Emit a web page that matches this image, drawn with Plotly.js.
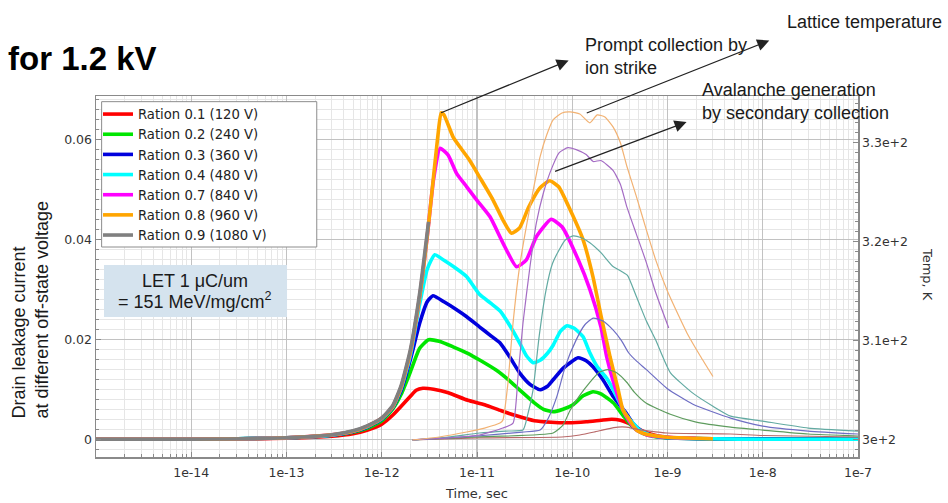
<!DOCTYPE html>
<html>
<head>
<meta charset="utf-8">
<script src="https://cdn.plot.ly/plotly-3.0.1.min.js"></script>
<style>
  html, body { margin: 0; padding: 0; background: #fff; }
  #chart { width: 948px; height: 503px; }
</style>
</head>
<body>
<div id="chart"></div>
<script>
// ---- Drain current (left axis), one series per off-state voltage ratio ----
const time_r01 = [1e-15, 1e-14, 1e-13, 3e-13, 5e-13, 7e-13, 1e-12, 1.3e-12, 1.6e-12, 2e-12, 2.3e-12, 2.7e-12, 3.5e-12, 5e-12, 8e-12, 1.2e-11, 1.8e-11, 2.5e-11, 4e-11, 6e-11, 9e-11, 1.4e-10, 2e-10, 2.6e-10, 3.2e-10, 3.8e-10, 4.5e-10, 5.3e-10, 7e-10, 1e-9, 3e-9, 1e-7];
const cur_r01  = [0, 0, 0.0002, 0.0006, 0.0011, 0.0018, 0.0030, 0.0048, 0.0066, 0.0086, 0.0098, 0.0102, 0.0100, 0.0093, 0.0078, 0.0069, 0.0057, 0.0048, 0.0037, 0.0034, 0.0033, 0.0035, 0.0038, 0.0040, 0.0038, 0.0033, 0.0026, 0.0018, 0.0009, 0.0004, 0.0001, 0];

const time_r02 = [1e-15, 1e-14, 1e-13, 3e-13, 5e-13, 7e-13, 1e-12, 1.3e-12, 1.6e-12, 2e-12, 2.5e-12, 3.1e-12, 4e-12, 5.6e-12, 8e-12, 1.1e-11, 1.6e-11, 2.2e-11, 2.8e-11, 4e-11, 5e-11, 6.3e-11, 8e-11, 1.02e-10, 1.3e-10, 1.65e-10, 2e-10, 2.7e-10, 3.5e-10, 4.3e-10, 5.5e-10, 7e-10, 1e-9, 3e-9, 1e-7];
const cur_r02  = [0, 0, 0.0003, 0.0008, 0.0014, 0.0022, 0.0037, 0.0060, 0.0090, 0.0135, 0.0182, 0.0199, 0.0196, 0.0185, 0.0172, 0.0157, 0.0138, 0.0117, 0.0099, 0.0073, 0.0060, 0.0055, 0.0060, 0.0069, 0.0087, 0.0095, 0.0091, 0.0073, 0.0045, 0.0025, 0.0012, 0.0006, 0.0003, 0.0001, 0];

const time_r03 = [1e-15, 1e-14, 1e-13, 3e-13, 5e-13, 7e-13, 1e-12, 1.3e-12, 1.6e-12, 2e-12, 2.5e-12, 3e-12, 3.45e-12, 4.5e-12, 6e-12, 7.8e-12, 1.06e-11, 1.4e-11, 1.74e-11, 2.2e-11, 2.8e-11, 3.6e-11, 4.6e-11, 5.5e-11, 6.3e-11, 8e-11, 1.15e-10, 1.4e-10, 1.65e-10, 2.1e-10, 2.7e-10, 3.6e-10, 4.3e-10, 5.3e-10, 7e-10, 1e-9, 3e-9, 1e-7];
const cur_r03  = [0, 0, 0.0003, 0.0008, 0.0015, 0.0024, 0.0040, 0.0063, 0.0098, 0.0160, 0.0232, 0.0275, 0.0287, 0.0275, 0.0260, 0.0245, 0.0225, 0.0207, 0.0193, 0.0165, 0.0133, 0.0110, 0.0099, 0.0106, 0.0119, 0.0142, 0.0163, 0.0157, 0.0145, 0.0119, 0.0085, 0.0055, 0.0033, 0.0017, 0.0007, 0.0003, 0.0001, 0];

const time_r04 = [1e-15, 1e-14, 1e-13, 3e-13, 5e-13, 7e-13, 1e-12, 1.3e-12, 1.6e-12, 2e-12, 2.5e-12, 3e-12, 3.6e-12, 4.5e-12, 6e-12, 7.8e-12, 1.06e-11, 1.4e-11, 1.74e-11, 2.2e-11, 2.8e-11, 3.3e-11, 3.9e-11, 4.6e-11, 5.5e-11, 6.3e-11, 7.5e-11, 8.8e-11, 1.05e-10, 1.3e-10, 1.53e-10, 1.83e-10, 2.3e-10, 2.7e-10, 3.2e-10, 3.7e-10, 4.3e-10, 5e-10, 5.8e-10, 7e-10, 1.07e-9, 3e-9, 1e-8, 1e-7];
const cur_r04  = [0, 0, 0.0003, 0.0008, 0.0016, 0.0025, 0.0041, 0.0064, 0.0102, 0.0168, 0.0270, 0.0340, 0.0369, 0.0358, 0.0342, 0.0325, 0.0290, 0.0272, 0.0257, 0.0228, 0.0193, 0.0167, 0.0153, 0.0158, 0.0172, 0.0188, 0.0216, 0.0227, 0.0222, 0.0205, 0.0173, 0.0145, 0.0122, 0.0099, 0.0070, 0.0048, 0.0033, 0.0020, 0.0013, 0.0007, 0.0003, 0.0001, 0, 0];

const time_r07 = [1e-15, 1e-14, 1e-13, 3e-13, 5e-13, 7e-13, 1e-12, 1.3e-12, 1.6e-12, 2e-12, 2.5e-12, 3e-12, 3.5e-12, 4.1e-12, 4.96e-12, 6.1e-12, 7.8e-12, 9.9e-12, 1.37e-11, 1.87e-11, 2.6e-11, 3.3e-11, 4.2e-11, 6e-11, 7.8e-11, 1.15e-10, 1.53e-10, 2e-10, 2.3e-10, 2.8e-10, 3.4e-10, 4e-10, 4.7e-10, 6e-10, 1e-9, 2e-9];
const cur_r07  = [0, 0, 0.0003, 0.0009, 0.0016, 0.0026, 0.0042, 0.0065, 0.0105, 0.0175, 0.0285, 0.0405, 0.0520, 0.0582, 0.0569, 0.0532, 0.0505, 0.0479, 0.0445, 0.0393, 0.0345, 0.0359, 0.0405, 0.0440, 0.0425, 0.0360, 0.0300, 0.0225, 0.0165, 0.0105, 0.0059, 0.0035, 0.0019, 0.0009, 0.0004, 0.0002];

const time_r08 = [1e-15, 1e-14, 1e-13, 3e-13, 5e-13, 7e-13, 1e-12, 1.3e-12, 1.6e-12, 2e-12, 2.5e-12, 3e-12, 3.5e-12, 3.9e-12, 4.2e-12, 4.5e-12, 5.6e-12, 6.6e-12, 8.3e-12, 1.06e-11, 1.47e-11, 1.87e-11, 2.3e-11, 2.8e-11, 3.5e-11, 4.6e-11, 5.8e-11, 7.2e-11, 9.5e-11, 1.3e-10, 1.65e-10, 2e-10, 2.5e-10, 3e-10, 3.4e-10, 4e-10, 4.7e-10, 6e-10, 8e-10, 1e-9, 2e-9, 3e-9];
const cur_r08  = [0, 0, 0.0003, 0.0009, 0.0016, 0.0026, 0.0042, 0.0065, 0.0105, 0.0175, 0.0285, 0.0405, 0.0526, 0.0610, 0.0653, 0.0649, 0.0605, 0.0585, 0.0559, 0.0525, 0.0479, 0.0439, 0.0412, 0.0423, 0.0465, 0.0503, 0.0517, 0.0505, 0.0459, 0.0399, 0.0325, 0.0248, 0.0164, 0.0103, 0.0059, 0.0039, 0.0019, 0.0010, 0.0006, 0.0004, 0.0002, 0.0001];

const time_r09 = [1e-15, 1e-14, 1e-13, 3e-13, 5e-13, 7e-13, 1e-12, 1.3e-12, 1.6e-12, 2e-12, 2.5e-12, 3.1e-12];
const cur_r09  = [0, 0, 0.0003, 0.0009, 0.0017, 0.0027, 0.0043, 0.0067, 0.0108, 0.0180, 0.0292, 0.0435];

// ---- Lattice temperature (right axis) ----
const ttime_r01 = [2.1e-12, 1e-11, 7.8e-11, 1.2e-10, 1.7e-10, 2.3e-10, 3e-10, 3.7e-10, 4.7e-10, 6.5e-10, 9.9e-10, 4.6e-9, 1e-8, 1e-7];
const temp_r01  = [300.0, 300.2, 300.3, 300.5, 300.8, 301.1, 301.3, 301.3, 301.1, 300.9, 300.7, 300.6, 300.45, 300.3];

const ttime_r02 = [2.1e-12, 1e-11, 6.3e-11, 8e-11, 9.5e-11, 1.2e-10, 1.53e-10, 1.9e-10, 2.35e-10, 2.9e-10, 3.75e-10, 4.5e-10, 6e-10, 1.07e-9, 2e-9, 4.6e-9, 1e-8, 3e-8, 1e-7];
const temp_r02  = [300.0, 300.3, 300.7, 301.5, 303.0, 304.5, 305.8, 306.8, 307.1, 306.8, 305.8, 304.8, 303.7, 302.6, 301.8, 301.3, 301.0, 300.6, 300.4];

const ttime_r03 = [2.1e-12, 1e-11, 3e-11, 4.6e-11, 5.6e-11, 6.9e-11, 8.5e-11, 1.1e-10, 1.35e-10, 1.66e-10, 2.1e-10, 2.68e-10, 3.3e-10, 3.9e-10, 4.8e-10, 6e-10, 9.9e-10, 1.85e-9, 4.6e-9, 1e-8, 3e-8, 1e-7];
const temp_r03  = [300.0, 300.4, 300.8, 301.0, 302.2, 304.4, 307.5, 310.1, 311.6, 312.3, 312.0, 311.1, 310.0, 308.8, 307.9, 307.1, 305.2, 303.6, 302.2, 301.4, 300.9, 300.6];

const ttime_r04 = [2.1e-12, 5e-12, 1.06e-11, 2e-11, 3.04e-11, 3.4e-11, 3.87e-11, 4.5e-11, 5.3e-11, 6.2e-11, 7.3e-11, 8.5e-11, 1.02e-10, 1.25e-10, 1.53e-10, 2e-10, 2.68e-10, 3.3e-10, 3.8e-10, 4.7e-10, 6e-10, 7.5e-10, 1.07e-9, 1.8e-9, 3e-9, 4.6e-9, 1e-8, 3e-8, 1e-7];
const temp_r04  = [300.0, 300.3, 300.7, 300.9, 301.0, 302.5, 305.0, 310.5, 315.1, 317.8, 319.2, 320.2, 320.6, 320.4, 319.9, 318.9, 317.5, 317.0, 316.6, 314.5, 312.0, 310.1, 306.8, 304.8, 303.4, 302.4, 301.9, 301.2, 300.9];

const ttime_r07 = [2.1e-12, 5e-12, 1.06e-11, 1.87e-11, 2.39e-11, 2.7e-11, 3.04e-11, 3.6e-11, 4.2e-11, 5e-11, 5.8e-11, 7.3e-11, 9e-11, 1.1e-10, 1.4e-10, 1.66e-10, 2e-10, 2.68e-10, 3.2e-10, 3.75e-10, 4.7e-10, 6e-10, 7.5e-10, 1.03e-9];
const temp_r07  = [300.0, 300.2, 300.5, 301.2, 301.7, 306.5, 311.8, 317.5, 321.9, 325.0, 326.9, 329.0, 329.5, 329.3, 328.8, 328.1, 328.2, 327.2, 325.8, 323.5, 320.8, 317.9, 314.9, 311.3];

const ttime_r08 = [2.1e-12, 4e-12, 7.8e-12, 1.2e-11, 1.74e-11, 1.87e-11, 2.1e-11, 2.39e-11, 2.8e-11, 3.35e-11, 4e-11, 4.6e-11, 5.4e-11, 6.3e-11, 7.8e-11, 9.5e-11, 1.2e-10, 1.53e-10, 1.83e-10, 2.2e-10, 2.68e-10, 3.2e-10, 3.75e-10, 4.7e-10, 6e-10, 7.5e-10, 9.9e-10, 1.3e-9, 1.6e-9, 2.2e-9, 3e-9];
const temp_r08  = [300.0, 300.3, 300.8, 301.2, 301.7, 302.0, 305.5, 311.8, 317.5, 321.9, 325.8, 328.6, 330.8, 332.3, 333.0, 333.1, 332.9, 332.0, 332.8, 332.6, 331.6, 330.0, 327.6, 324.6, 321.2, 318.2, 315.1, 312.6, 310.8, 308.5, 306.4];

// ---- Labels ----
const seriesNames = ['Ration 0.1 (120 V)', 'Ration 0.2 (240 V)', 'Ration 0.3 (360 V)', 'Ration 0.4 (480 V)',
                     'Ration 0.7 (840 V)', 'Ration 0.8 (960 V)', 'Ration 0.9 (1080 V)'];
const xTickVals = [1e-14, 1e-13, 1e-12, 1e-11, 1e-10, 1e-9, 1e-8, 1e-7];
const xTickText = ['1e-14', '1e-13', '1e-12', '1e-11', '1e-10', '1e-9', '1e-8', '1e-7'];
const yTickVals = [0, 0.02, 0.04, 0.06];
const yTickText = ['0', '0.02', '0.04', '0.06'];
const y2TickVals = [300, 310, 320, 330];
const y2TickText = ['3e+2', '3.1e+2', '3.2e+2', '3.3e+2'];

// ---- Styling ----
const currentColors = ['#ff0000', '#00e600', '#0000dd', '#00ffff', '#ff00ff', '#ffa500', '#808080'];
const tempColors = ['#b86868', '#5e9c5e', '#6e6ec4', '#62aaa2', '#a46cc4', '#f2b273'];
const AX = '#8a8a8a';
const TICKFONT = { family: 'DejaVu Sans', size: 12.5, color: '#333' };
const NOTEFONT = { family: 'Liberation Sans, Arial, sans-serif', size: 18, color: '#1a1a1a' };

const currentT = [time_r01, time_r02, time_r03, time_r04, time_r07, time_r08, time_r09];
const currentI = [cur_r01, cur_r02, cur_r03, cur_r04, cur_r07, cur_r08, cur_r09];
const tempT = [ttime_r01, ttime_r02, ttime_r03, ttime_r04, ttime_r07, ttime_r08];
const tempK = [temp_r01, temp_r02, temp_r03, temp_r04, temp_r07, temp_r08];

const traces = [];
currentT.forEach((t, k) => {
  traces.push({
    type: 'scatter', mode: 'lines', name: seriesNames[k],
    x: t, y: currentI[k], xaxis: 'x', yaxis: 'y',
    line: { color: currentColors[k], width: 3.6, shape: 'spline', smoothing: 0.5 },
    hoverinfo: 'skip'
  });
});
tempT.forEach((t, k) => {
  traces.push({
    type: 'scatter', mode: 'lines', showlegend: false,
    x: t, y: tempK[k], xaxis: 'x', yaxis: 'y2',
    line: { color: tempColors[k], width: 1.2, shape: 'spline', smoothing: 0.5 },
    hoverinfo: 'skip'
  });
});

// minor tick positions 2..9 within each decade
const minorX = [];
for (let e = -15; e < -7; e++) {
  for (let m = 2; m <= 9; m++) minorX.push(m * Math.pow(10, e));
}

// anchor point of the first callout: the prompt-collection peak
const peakIdx = cur_r08.indexOf(Math.max(...cur_r08));

function callout(xref, yref, x, y, ax, ay) {
  return { xref, yref, x, y, text: '', showarrow: true, arrowside: 'start',
           startarrowhead: 2, startarrowsize: 2, arrowwidth: 1.2, arrowcolor: '#222',
           ax, ay, standoff: 0, startstandoff: 0 };
}

const layout = {
  width: 948, height: 503,
  margin: { l: 96, r: 90, t: 96, b: 46, pad: 0 },
  paper_bgcolor: '#ffffff', plot_bgcolor: '#ffffff',
  showlegend: true,
  legend: {
    x: 0.0026, y: 0.9917, xanchor: 'left', yanchor: 'top',
    bgcolor: 'rgba(0,0,0,0)', borderwidth: 0,
    font: { family: 'DejaVu Sans', size: 13.2, color: '#222' },
    tracegroupgap: 0
  },
  xaxis: {
    type: 'log', range: [-15, -7],
    tickmode: 'array', tickvals: xTickVals, ticktext: xTickText,
    ticks: 'inside', ticklen: 5, tickcolor: AX, tickwidth: 1, ticklabelstandoff: 3,
    showline: true, linecolor: AX, linewidth: 1.5, mirror: true,
    showgrid: true, gridcolor: '#c2c2c2', gridwidth: 1.2, zeroline: false,
    minor: { tickmode: 'array', tickvals: minorX, ticks: 'inside', ticklen: 3, tickcolor: AX,
             showgrid: true, gridcolor: '#e6e6e6', gridwidth: 1 },
    tickfont: TICKFONT,
    title: { text: 'Time, sec', font: { family: 'DejaVu Sans', size: 13, color: '#333' }, standoff: 10 }
  },
  yaxis: {
    range: [-0.00354, 0.06866],
    tickmode: 'array', tickvals: yTickVals, ticktext: yTickText,
    ticks: 'inside', ticklen: 5, tickcolor: AX,
    showline: true, linecolor: AX, linewidth: 1.5,
    showgrid: true, gridcolor: '#c2c2c2', gridwidth: 1.2, zeroline: false,
    minor: { dtick: 0.002, ticks: 'inside', ticklen: 3, tickcolor: AX,
             showgrid: true, gridcolor: '#e6e6e6', gridwidth: 1 },
    tickfont: TICKFONT
  },
  yaxis2: {
    overlaying: 'y', side: 'right', range: [298.28, 334.71],
    tickmode: 'array', tickvals: y2TickVals, ticktext: y2TickText,
    ticks: 'inside', ticklen: 5, tickcolor: AX,
    showline: true, linecolor: AX, linewidth: 1.5,
    showgrid: false, zeroline: false,
    minor: { dtick: 1, ticks: 'inside', ticklen: 3, tickcolor: AX },
    tickfont: TICKFONT
  },
  shapes: [
    // legend frame
    { type: 'rect', xref: 'paper', yref: 'paper', x0: 0.0074, x1: 0.2897, y0: 0.5817, y1: 0.9843,
      fillcolor: '#ffffff', line: { color: '#8c8c8c', width: 1 }, layer: 'above' },
    // LET note box
    { type: 'rect', xref: 'paper', yref: 'paper', x0: 0.0105, x1: 0.2507, y0: 0.3878, y1: 0.5319,
      fillcolor: '#d5e3ee', line: { width: 0 }, layer: 'above' }
  ],
  annotations: [
    { xref: 'paper', yref: 'paper', x: -0.118, y: 1.1025, xanchor: 'left', yanchor: 'middle',
      text: '<b>for 1.2 kV</b>', showarrow: false,
      font: { family: 'Liberation Sans, Arial, sans-serif', size: 33, color: '#000' } },
    { xref: 'paper', yref: 'paper', x: -0.0866, y: 0.4058, xanchor: 'center', yanchor: 'middle',
      text: 'Drain leakage current<br>at different off-state voltage', align: 'left', textangle: -90,
      showarrow: false, font: NOTEFONT },
    { xref: 'paper', yref: 'paper', x: 1.0906, y: 0.507, xanchor: 'center', yanchor: 'middle',
      text: 'Temp, K', textangle: 90, showarrow: false,
      font: { family: 'DejaVu Sans', size: 13, color: '#333' } },
    { xref: 'paper', yref: 'paper', x: 0.13, y: 0.4875, xanchor: 'center', yanchor: 'middle',
      text: 'LET 1 \u03bcC/um', showarrow: false, font: NOTEFONT },
    { xref: 'paper', yref: 'paper', x: 0.13, y: 0.4349, xanchor: 'center', yanchor: 'middle',
      text: '= 151 MeV/mg/cm<sup>2</sup>', showarrow: false, font: NOTEFONT },
    { xref: 'paper', yref: 'paper', x: 0.904, y: 1.205, xanchor: 'left', yanchor: 'middle',
      text: 'Lattice temperature', showarrow: false, font: NOTEFONT },
    { xref: 'paper', yref: 'paper', x: 0.639, y: 1.109, xanchor: 'left', yanchor: 'middle',
      text: 'Prompt collection by<br>ion strike', align: 'left', showarrow: false, font: NOTEFONT },
    { xref: 'paper', yref: 'paper', x: 0.7927, y: 0.985, xanchor: 'left', yanchor: 'middle',
      text: 'Avalanche generation<br>by secondary collection', align: 'left', showarrow: false, font: NOTEFONT },
    // callout arrows: tail on the curve, head next to the note
    callout('x', 'y', Math.log10(time_r08[peakIdx]), cur_r08[peakIdx], 129, -53),
    callout('x', 'y2', Math.log10(1.42e-10), 333.0, 184, -73),
    callout('x', 'y2', Math.log10(6.6e-11), 327.1, 133, -50)
  ]
};

Plotly.newPlot('chart', traces, layout, { displayModeBar: false, responsive: false, staticPlot: true });
</script>
</body>
</html>
